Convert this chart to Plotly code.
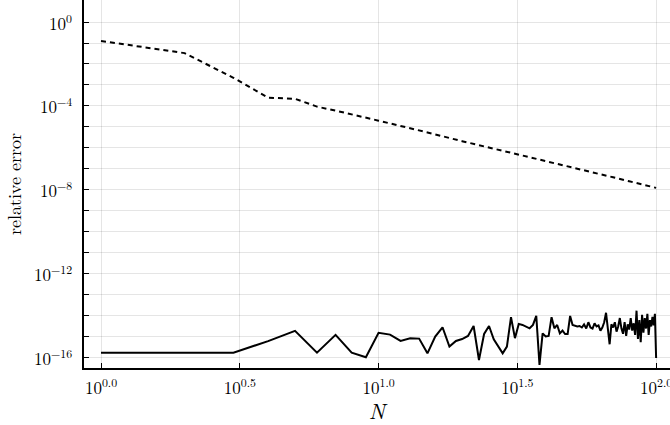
import plotly.graph_objects as go

# ---- data ----
N_solid = list(range(1, 101))
log_err_solid = [
    -15.75, -15.75, -15.75, -15.20, -14.71, -15.75, -14.90, -15.75, -15.97, -14.80,
    -14.89, -15.19, -15.06, -15.08, -15.78, -14.98, -14.54, -15.46, -15.19, -15.10,
    -14.95, -14.48, -16.10, -14.86, -14.48, -15.11, -15.46, -15.78, -15.46, -14.06,
    -15.06, -14.38, -14.43, -14.51, -14.59, -14.43, -14.00, -16.33, -14.83, -14.98,
    -14.95, -14.06, -14.59, -14.43, -14.83, -14.70, -14.86, -14.86, -14.00, -14.43,
    -14.45, -14.50, -14.48, -14.55, -14.40, -14.60, -14.30, -14.55, -14.60, -14.35,
    -14.50, -14.45, -14.70, -14.55, -14.30, -13.85, -14.60, -15.35, -14.40, -14.55,
    -14.30, -14.75, -14.50, -14.10, -14.60, -14.85, -14.30, -14.95, -14.40, -14.65,
    -14.10, -14.70, -14.35, -14.90, -13.75, -15.10, -14.20, -15.25, -13.95, -14.80,
    -14.10, -14.60, -13.90, -14.90, -14.20, -14.50, -14.05, -14.45, -13.90, -16.00,
]
err_solid = [10 ** v for v in log_err_solid]

N_dashed = [1, 2, 3, 4, 5, 6, 7, 8, 9, 10, 15, 20, 30, 40, 50, 60, 70, 80, 90, 100]
err_dashed = [0.125, 0.033, 2.2e-3, 2.5e-4, 2.2e-4, 9.3e-5, 6.0e-5, 4.0e-5, 2.9e-5, 2.0e-5,
              5.5e-6, 2.1e-6, 5.9e-7, 2.3e-7, 1.2e-7, 6.5e-8, 4.0e-8, 2.6e-8, 1.8e-8, 1.26e-8]

x_tick_exps = ["0.0", "0.5", "1.0", "1.5", "2.0"]
y_label_exps = [0, -4, -8, -12, -16]

FONT = "Latin Modern Roman, CMU Serif, Liberation Serif, serif"

fig = go.Figure()
fig.add_trace(go.Scatter(x=N_dashed, y=err_dashed, mode="lines",
                         line=dict(color="black", width=2, dash="5px,4px"),
                         showlegend=False, hoverinfo="skip"))
fig.add_trace(go.Scatter(x=N_solid, y=err_solid, mode="lines",
                         line=dict(color="black", width=2),
                         showlegend=False, hoverinfo="skip"))

xtickvals = [10 ** float(e) for e in x_tick_exps]
xticktext = ["10<sup>%s</sup>" % e for e in x_tick_exps]

ydec = list(range(-16, 1))
ytickvals = [10.0 ** k for k in ydec]

# y tick labels, placed at their axis values (log axis: annotation y is log10)
for k in y_label_exps:
    fig.add_annotation(x=0, xref="paper", xanchor="right", xshift=-10,
                       y=k, yref="y", yanchor="middle",
                       text="10<sup>%s</sup>" % str(k).replace("-", "−"),
                       showarrow=False, font=dict(size=17, family=FONT, color="black"))

fig.update_layout(
    width=670, height=425,
    margin=dict(l=84, r=0, t=0, b=57, autoexpand=False),
    paper_bgcolor="white", plot_bgcolor="white",
    font=dict(family=FONT, color="black", size=17),
    xaxis=dict(type="log", range=[-0.0613, 2.050], automargin=False,
               tickmode="array", tickvals=xtickvals, ticktext=xticktext,
               ticks="inside", ticklen=5, tickwidth=1, tickcolor="black",
               ticklabelstandoff=4, ticklabeloverflow="allow",
               showgrid=True, gridcolor="rgba(0,0,0,0.1)", gridwidth=1,
               showline=True, linecolor="black", linewidth=2,
               zeroline=False, mirror=False,
               title=dict(text="<i>N</i>", font=dict(size=22, family=FONT), standoff=0),
               tickfont=dict(size=17, family=FONT, color="black")),
    yaxis=dict(type="log", range=[-16.48, 1.048], automargin=False,
               tickmode="array", tickvals=ytickvals, showticklabels=False,
               ticks="inside", ticklen=5, tickwidth=1, tickcolor="black",
               showgrid=True, gridcolor="rgba(0,0,0,0.1)", gridwidth=1,
               showline=True, linecolor="black", linewidth=2,
               zeroline=False, mirror=False,
               title=dict(text="relative error", font=dict(size=18, family=FONT), standoff=56)),
)

fig.write_html("out.html", config={"displayModeBar": False},
               post_script="document.body.style.margin='0px';document.body.style.overflow='hidden';")
